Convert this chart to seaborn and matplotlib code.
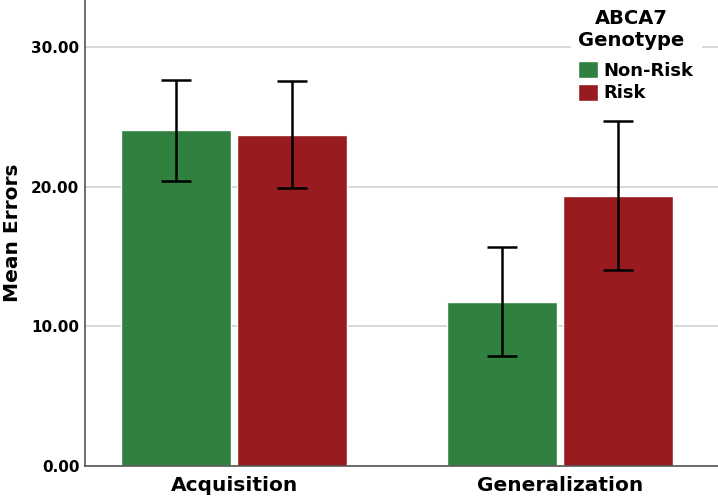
import pandas as pd
import matplotlib.pyplot as plt
import seaborn as sns
from matplotlib.patches import Patch

# values
phases = ["Acquisition", "Acquisition", "Generalization", "Generalization"]
genotype = ["Non-Risk", "Risk", "Non-Risk", "Risk"]
mean_errors = [24.05, 23.72, 11.77, 19.35]
ci_low = [20.45, 19.96, 7.87, 14.07]
ci_high = [27.70, 27.60, 15.70, 24.70]

colors = {"Non-Risk": "#30803f", "Risk": "#981b1f"}

df = pd.DataFrame({"phase": phases, "genotype": genotype, "mean": mean_errors,
                   "lo": ci_low, "hi": ci_high})

sns.set_style("white")
plt.rcParams["font.family"] = ["DejaVu Sans"]
plt.rcParams["text.color"] = "black"

fig = plt.figure(figsize=(7.18, 5), dpi=100)
ax = fig.add_axes([85 / 718, 34 / 500, 633 / 718, 466 / 500])

sns.barplot(data=df, x="phase", y="mean", hue="genotype", palette=colors,
            saturation=1, width=0.71, gap=0.05, ax=ax, zorder=2, legend=False)

# error bars on each bar centre
for bar, (_, row) in zip(ax.patches, df.sort_values(["genotype", "phase"]).iterrows()):
    xc = bar.get_x() + bar.get_width() / 2
    ax.errorbar(xc, row["mean"], yerr=[[row["mean"] - row["lo"]], [row["hi"] - row["mean"]]],
                color="black", lw=1.8, capsize=10.8, capthick=1.8, zorder=3)

ax.set_ylim(0, 33.4)
ax.set_xlim(-0.458, 1.484)
ax.set_yticks([0, 10, 20, 30])
ax.set_yticklabels(["0.00", "10.00", "20.00", "30.00"], fontsize=11, fontweight="bold", color="black")
ax.set_xticks([0, 1])
ax.set_xticklabels(["Acquisition", "Generalization"], fontsize=14.5, fontweight="bold", color="black")
ax.tick_params(axis="y", length=0, pad=4)
ax.tick_params(axis="x", length=0, pad=7)
ax.set_xlabel("")
ax.set_ylabel("Mean Errors", fontsize=14.5, fontweight="bold", color="black")
ax.yaxis.set_label_coords(-0.1, 0.5)
ax.yaxis.grid(True, color="#d4d4d4", lw=1.3, zorder=0)
ax.set_axisbelow(True)
for s in ["top", "right"]:
    ax.spines[s].set_visible(False)
for s in ["left", "bottom"]:
    ax.spines[s].set_color("#555555")
    ax.spines[s].set_linewidth(1.2)

handles = [Patch(facecolor=colors[g], label=g) for g in ["Non-Risk", "Risk"]]
leg = fig.legend(handles=handles, title="ABCA7\nGenotype", loc="upper center",
                 bbox_to_anchor=(636 / 718, 1.0), frameon=True, facecolor="white",
                 edgecolor="white", framealpha=1, prop={"size": 13, "weight": "bold"},
                 handlelength=1.1, handleheight=1.1, handletextpad=0.3, labelspacing=0.2,
                 borderaxespad=0.1)
leg.get_title().set_fontsize(14)
leg.get_title().set_fontweight("bold")
leg.get_title().set_multialignment("center")
leg._legend_box.align = "left"
leg._legend_box.sep = 8

fig.savefig("out.png", dpi=100)
